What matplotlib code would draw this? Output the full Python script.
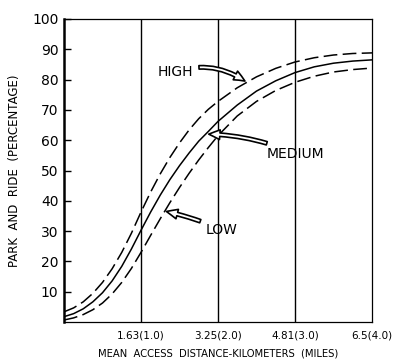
import numpy as np
import matplotlib
matplotlib.use('Agg')
import matplotlib.pyplot as plt

# distance in miles
dist = [0, 0.125, 0.25, 0.375, 0.5, 0.625, 0.75, 0.875, 1,
        1.125, 1.25, 1.375, 1.5, 1.625, 1.75, 1.875, 2,
        2.25, 2.5, 2.75, 3, 3.25, 3.5, 3.75, 4]

high = [3.4, 4.7, 6.7, 9.5, 13.1, 17.6, 23.0, 29.3, 36.3,
        42.9, 48.9, 54.3, 59.1, 63.4, 67.1, 70.2, 72.8,
        77.3, 80.9, 83.7, 85.8, 87.2, 88.1, 88.6, 88.8]
medium = [1.8, 2.8, 4.4, 6.7, 9.7, 13.6, 18.4, 24.1, 30.3,
          36.3, 41.9, 47.0, 51.6, 55.8, 59.7, 62.9, 66.2,
          71.6, 76.2, 79.6, 82.3, 84.2, 85.4, 86.1, 86.5]
low = [0.7, 1.4, 2.5, 4.1, 6.3, 9.3, 13.1, 17.7, 23.0,
       28.6, 34.1, 39.4, 44.4, 49.1, 53.5, 57.6, 61.5,
       68.0, 72.8, 76.4, 79.1, 81.1, 82.5, 83.3, 83.8]

xtick_pos = [1, 2, 3, 4]
xtick_labels = ['1.63(1.0)', '3.25(2.0)', '4.81(3.0)', '6.5(4.0)']
ytick_vals = [10, 20, 30, 40, 50, 60, 70, 80, 90, 100]

fig = plt.figure(figsize=(4, 3.64), dpi=100)
ax = fig.add_axes([0.16, 0.115, 0.77, 0.833])

ax.plot(dist, high, color='black', lw=1.1, dashes=(9, 3.5))
ax.plot(dist, medium, color='black', lw=1.1)
ax.plot(dist, low, color='black', lw=1.1, dashes=(9, 3.5))

for xv in xtick_pos[:-1]:
    ax.axvline(xv, color='black', lw=1)

ax.set_xlim(0, 4)
ax.set_ylim(0, 100)
ax.set_xticks(xtick_pos)
ax.set_xticklabels(xtick_labels, fontsize=7.5)
ax.tick_params(axis='x', length=0, pad=6)
ax.set_yticks(ytick_vals)
ax.set_yticklabels([str(v) for v in ytick_vals], fontsize=10)
ax.tick_params(axis='y', direction='in', length=5, width=1, pad=4)

ax.spines['left'].set_linewidth(1.8)
for s in ['top', 'right', 'bottom']:
    ax.spines[s].set_linewidth(0.9)

ax.set_ylabel('PARK  AND  RIDE  (PERCENTAGE)', fontsize=8.5, labelpad=8)
ax.set_xlabel('MEAN  ACCESS  DISTANCE-KILOMETERS  (MILES)', fontsize=7.2, labelpad=6)

arrow = dict(arrowstyle='simple,head_width=0.7,head_length=0.8,tail_width=0.25',
             fc='white', ec='black', lw=1.2)

ax.annotate('HIGH', xy=(2.35, 79.5), xytext=(1.22, 82.5), fontsize=10,
            va='center', ha='left',
            arrowprops=dict(arrow, connectionstyle='arc3,rad=-0.25',
                            shrinkA=2, shrinkB=0))
ax.annotate('MEDIUM', xy=(1.88, 62), xytext=(2.63, 55.5), fontsize=10,
            va='center', ha='left',
            arrowprops=dict(arrow, connectionstyle='arc3,rad=0.1',
                            shrinkA=2, shrinkB=0))
ax.annotate('LOW', xy=(1.33, 36.5), xytext=(1.84, 30.5), fontsize=10,
            va='center', ha='left',
            arrowprops=dict(arrow, connectionstyle='arc3,rad=0.05',
                            shrinkA=2, shrinkB=0))

fig.savefig('out.png', dpi=100)
